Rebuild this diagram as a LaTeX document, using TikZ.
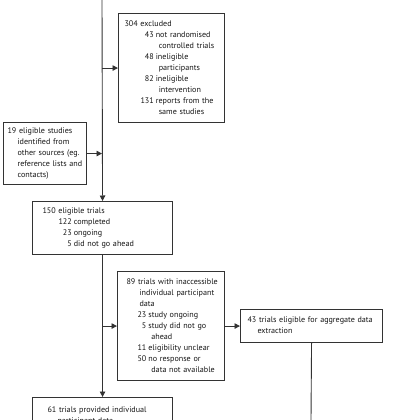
\documentclass[tikz,border=0pt]{standalone}
\usepackage{fontspec}
\setmainfont{PT Sans}
\usetikzlibrary{arrows.meta}
\definecolor{linec}{HTML}{333333}
\definecolor{textc}{HTML}{151515}
\tikzset{
  flowbox/.style={draw=linec, line width=1.1pt, anchor=north west, inner xsep=0pt, inner ysep=0pt,
    align=left, text=textc, font=\fontsize{8.1}{11}\selectfont},
  arr/.style={draw=linec, line width=0.9pt, -{Triangle[length=5.5pt,width=5.5pt]}},
  plain/.style={draw=linec, line width=0.9pt}
}
\begin{document}
\begin{tikzpicture}[x=1pt,y=-1pt]
\useasboundingbox (0,0) rectangle (420,420);
\clip (0,0) rectangle (420,420);
\coordinate (top) at (102,0);
\coordinate (bottom) at (311,420);

\node[flowbox, minimum width=106pt, text width=106pt, minimum height=109pt] (excl) at (118,13)
{\hspace*{6pt}\begin{tabular}[t]{@{\hspace{16pt}}r@{\hspace{2pt}}l@{}}
\multicolumn{2}{@{}l@{}}{304 excluded}\\
43 & not randomised\\
 & \hspace*{3pt}controlled trials\\
48 & ineligible\\
 & \hspace*{3pt}participants\\
82 & ineligible\\
 & \hspace*{3pt}intervention\\
131 & reports from the\\
 & \hspace*{3pt}same studies
\end{tabular}};

\node[flowbox, minimum width=83pt, text width=83pt, minimum height=62pt] (other) at (3,122)
{\hspace*{4pt}\begin{tabular}[t]{@{}l@{}}
19 eligible studies\\
\hspace*{10pt}identified from\\
\hspace*{10pt}other sources (eg.\\
\hspace*{10pt}reference lists and\\
\hspace*{10pt}contacts)
\end{tabular}};

\node[flowbox, minimum width=140pt, text width=140pt, minimum height=53pt] (elig) at (32,201)
{\hspace*{10pt}\begin{tabular}[t]{@{\hspace{16pt}}r@{\hspace{2pt}}l@{}}
\multicolumn{2}{@{}l@{}}{150 eligible trials}\\
122 & completed\\
23 & ongoing\\
5 & did not go ahead
\end{tabular}};

\node[flowbox, minimum width=107pt, text width=107pt, minimum height=109pt] (inacc) at (117,271)
{\hspace*{9pt}\begin{tabular}[t]{@{\hspace{11pt}}r@{\hspace{2pt}}l@{}}
\multicolumn{2}{@{}l@{}}{89 trials with inaccessible}\\
\multicolumn{2}{@{\hspace{13pt}}l@{}}{individual participant}\\
\multicolumn{2}{@{\hspace{13pt}}l@{}}{data}\\
23 & study ongoing\\
5 & study did not go\\
 & \hspace*{3pt}ahead\\
11 & eligibility unclear\\
50 & no response or\\
 & \hspace*{3pt}data not available
\end{tabular}};

\node[flowbox, minimum width=142pt, text width=142pt, minimum height=33pt] (agg) at (240,309)
{\hspace*{7pt}\begin{tabular}[t]{@{}l@{}}
43 trials eligible for aggregate data\\
\hspace*{10pt}extraction
\end{tabular}};

\node[flowbox, minimum width=140pt, text width=140pt, minimum height=40pt, text height=0pt] (ipd) at (32,397)
{\raisebox{-5pt}{\hspace*{15pt}\begin{tabular}[t]{@{}l@{}}
61 trials provided individual\\
\hspace*{10pt}participant data
\end{tabular}}};

\draw[arr] (top) -- (elig.north);
\draw[arr] (top |- excl.west) -- (excl.west);
\draw[arr] (other.east) -- (top |- other.east);
\draw[arr] (elig.south) -- (ipd.north);
\draw[arr] (elig.south |- inacc.west) -- (inacc.west);
\draw[arr] (inacc.east) -- (agg.west);
\draw[plain] (agg.south) -- (bottom);
\end{tikzpicture}
\end{document}
